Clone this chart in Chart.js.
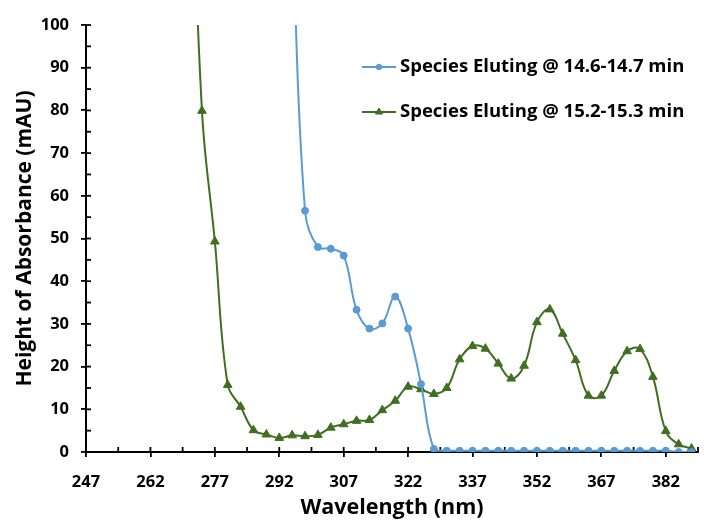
<!DOCTYPE html>
<html>
<head>
<meta charset="utf-8">
<script src="https://cdn.jsdelivr.net/npm/chart.js@4.4.1/dist/chart.umd.min.js"></script>
<style>
html,body{margin:0;padding:0;background:#fff;}
#wrap{width:704px;height:521px;}
</style>
</head>
<body>
<div id="wrap"><canvas id="c" width="704" height="521"></canvas></div>
<script>
const blueLabel = "Species Eluting @ 14.6-14.7 min";
const greenLabel = "Species Eluting @ 15.2-15.3 min";
const blueWavelengths = [295,298,301,304,307,310,313,316,319,322,325,328,331,334,337,340,343,346,349,352,355,358,361,364,367,370,373,376,379,382,385,388];
const blueValues = [125,56.5,48.0,47.6,46.0,33.3,28.9,30.1,36.4,28.9,15.9,0.7,0.3,0.3,0.3,0.3,0.3,0.3,0.3,0.3,0.3,0.3,0.3,0.3,0.3,0.3,0.3,0.3,0.3,0.3,0,0];
const greenWavelengths = [271,274,277,280,283,286,289,292,295,298,301,304,307,310,313,316,319,322,325,328,331,334,337,340,343,346,349,352,355,358,361,364,367,370,373,376,379,382,385,388];
const greenValues = [160,79.9,49.3,15.7,10.6,5.1,4.1,3.3,3.9,3.7,4.0,5.7,6.5,7.3,7.5,9.8,12.0,15.3,14.7,13.6,15.0,21.7,24.8,24.2,20.7,17.2,20.2,30.4,33.4,27.7,21.5,13.2,13.2,19.0,23.6,24.1,17.6,4.9,1.8,0.8];
const xTickLabels = [247,262,277,292,307,322,337,352,367,382];
const yTickLabels = [0,10,20,30,40,50,60,70,80,90,100];

const BLUE = '#5B9BD5';
const GREEN = '#3F6F1F';
const FONT = "'Open Sans', sans-serif";

const pts = (xs, ys) => xs.map((x, i) => ({x: x, y: ys[i]}));

function seg(ctx, ax, ay, bx, by) {
  ctx.beginPath();
  ctx.moveTo(ax, ay);
  ctx.lineTo(bx, by);
  ctx.stroke();
}

// inner halves of major ticks and inner minor ticks
function drawInnerTicks(chart) {
  const ctx = chart.ctx;
  const xs = chart.scales.x, ys = chart.scales.y;
  const ca = chart.chartArea;
  const x0 = ca.left, y0 = ca.bottom;
  ctx.save();
  ctx.strokeStyle = '#000000';
  ctx.lineWidth = 1.8;
  for (let i = 0; i < yTickLabels.length; i++) {
    const v = yTickLabels[i];
    seg(ctx, x0, ys.getPixelForValue(v), x0 + 5, ys.getPixelForValue(v));
    if (i < yTickLabels.length - 1) {
      const pm = ys.getPixelForValue((v + yTickLabels[i + 1]) / 2);
      seg(ctx, x0, pm, x0 + 5, pm);
    }
  }
  for (let i = 0; i < xTickLabels.length; i++) {
    const v = xTickLabels[i];
    const px = xs.getPixelForValue(v);
    seg(ctx, px, y0 - 5, px, y0);
    const pm = xs.getPixelForValue(v + 7.5);
    if (pm <= ca.right + 0.5) seg(ctx, pm, y0 - 5, pm, y0);
  }
  ctx.restore();
}

function drawLegend(chart) {
  const ctx = chart.ctx;
  const rows = [67, 112];
  chart.data.datasets.forEach((ds, i) => {
    const y = rows[i];
    ctx.save();
    ctx.strokeStyle = ds.borderColor;
    ctx.lineWidth = 2;
    seg(ctx, 362, y, 396, y);
    ctx.fillStyle = ds.pointBackgroundColor;
    ctx.strokeStyle = ds.pointBorderColor;
    ctx.lineWidth = 1;
    Chart.helpers.drawPoint(ctx, {pointStyle: ds.pointStyle, radius: ds.pointRadius * 0.8, borderWidth: 1, rotation: 0}, 379, y);
    ctx.fillStyle = '#000';
    ctx.font = "bold 18.5px " + FONT;
    ctx.textAlign = 'left';
    ctx.textBaseline = 'middle';
    ctx.fillText(ds.label, 400, y);
    ctx.restore();
  });
}

const overlayPlugin = {
  id: 'overlayAxesLegend',
  beforeDatasetsDraw(chart) { drawInnerTicks(chart); },
  afterDraw(chart) { drawLegend(chart); }
};

const axisGrid = {display: true, drawOnChartArea: false, drawTicks: true, tickLength: 5, tickColor: '#000', tickWidth: 1.8, color: '#000', lineWidth: 1.8};
const axisBorder = {display: true, color: '#000', width: 2};

new Chart(document.getElementById('c'), {
  type: 'line',
  data: {
    datasets: [
      {
        label: blueLabel,
        data: pts(blueWavelengths, blueValues),
        borderColor: BLUE,
        backgroundColor: BLUE,
        pointBackgroundColor: BLUE,
        pointBorderColor: BLUE,
        pointStyle: 'circle',
        pointRadius: 3.5,
        pointBorderWidth: 1,
        borderWidth: 2,
        tension: 0.4,
        fill: false
      },
      {
        label: greenLabel,
        data: pts(greenWavelengths, greenValues),
        borderColor: GREEN,
        backgroundColor: GREEN,
        pointBackgroundColor: GREEN,
        pointBorderColor: GREEN,
        pointStyle: 'triangle',
        pointRadius: 5,
        pointBorderWidth: 1,
        borderWidth: 2,
        tension: 0.4,
        fill: false
      }
    ]
  },
  options: {
    responsive: false,
    animation: false,
    events: [],
    layout: {padding: {top: 25, right: 0, left: 0, bottom: 0}},
    plugins: {legend: {display: false}, tooltip: {enabled: false}},
    scales: {
      x: {
        type: 'linear',
        min: 247,
        max: 389.5,
        afterBuildTicks: (s) => { s.ticks = xTickLabels.map(v => ({value: v})); },
        afterFit: (s) => { s.height = 69; },
        grid: axisGrid,
        border: axisBorder,
        ticks: {
          autoSkip: false,
          maxRotation: 0,
          padding: 15,
          color: '#000',
          font: {family: FONT, size: 16.5, weight: 'bold'},
          callback: (v) => String(v)
        },
        title: {
          display: true,
          text: 'Wavelength (nm)',
          color: '#000',
          font: {family: FONT, size: 21.5, weight: 'bold'},
          padding: {top: 0, bottom: 0}
        }
      },
      y: {
        min: 0,
        max: 100,
        afterBuildTicks: (s) => { s.ticks = yTickLabels.map(v => ({value: v})); },
        afterFit: (s) => { s.width = 86; },
        grid: axisGrid,
        border: axisBorder,
        ticks: {
          padding: 12,
          color: '#000',
          font: {family: FONT, size: 16.5, weight: 'bold'}
        },
        title: {
          display: true,
          text: 'Height of Absorbance (mAU)',
          color: '#000',
          font: {family: FONT, size: 21, weight: 'bold'},
          padding: {top: 12, bottom: 0}
        }
      }
    }
  },
  plugins: [overlayPlugin]
});
</script>
</body>
</html>
